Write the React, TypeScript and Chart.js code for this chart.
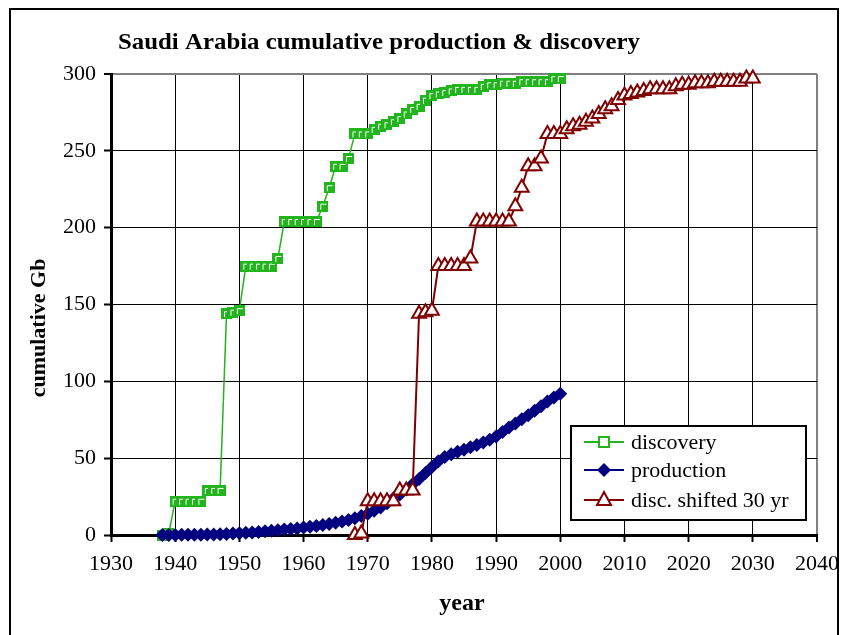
import { useEffect, useRef } from 'react';
import { Chart, registerables } from 'chart.js';

Chart.register(...registerables);

const titleText = 'Saudi Arabia cumulative production & discovery';
const xAxisTitle = 'year';
const yAxisTitle = 'cumulative Gb';
const seriesNames = ['discovery', 'production', 'disc. shifted 30 yr'];

const xTickMin = 1930;
const xTickMax = 2040;
const xTickStep = 10;
const yTickMin = 0;
const yTickMax = 300;
const yTickStep = 50;

const discoveryYears = [
  1938, 1939, 1940, 1941, 1942, 1943, 1944, 1945, 1946, 1947,
  1948, 1949, 1950, 1951, 1952, 1953, 1954, 1955, 1956, 1957,
  1958, 1959, 1960, 1961, 1962, 1963, 1964, 1965, 1966, 1967,
  1968, 1969, 1970, 1971, 1972, 1973, 1974, 1975, 1976, 1977,
  1978, 1979, 1980, 1981, 1982, 1983, 1984, 1985, 1986, 1987,
  1988, 1989, 1990, 1991, 1992, 1993, 1994, 1995, 1996, 1997,
  1998, 1999, 2000,
];
const discoveryValues = [
  0, 1, 22, 22, 22, 22, 22, 29, 29, 29,
  144, 145, 146, 175, 175, 175, 175, 175, 180, 204,
  204, 204, 204, 204, 204, 214, 226, 240, 240, 245,
  261, 261, 261, 264, 266, 267, 269, 271, 274, 277,
  279, 283, 286, 287, 288, 289, 290, 290, 290, 290,
  292, 293, 293, 294, 294, 294, 295, 295, 295, 295,
  295, 297, 297,
];

const productionYears = [
  1938, 1939, 1940, 1941, 1942, 1943, 1944, 1945, 1946, 1947,
  1948, 1949, 1950, 1951, 1952, 1953, 1954, 1955, 1956, 1957,
  1958, 1959, 1960, 1961, 1962, 1963, 1964, 1965, 1966, 1967,
  1968, 1969, 1970, 1971, 1972, 1973, 1974, 1975, 1976, 1977,
  1978, 1979, 1980, 1981, 1982, 1983, 1984, 1985, 1986, 1987,
  1988, 1989, 1990, 1991, 1992, 1993, 1994, 1995, 1996, 1997,
  1998, 1999, 2000,
];
const productionValues = [
  0, 0, 0, 0.1, 0.1, 0.1, 0.2, 0.3, 0.4, 0.5,
  0.7, 0.9, 1.1, 1.4, 1.7, 2.0, 2.4, 2.8, 3.1, 3.5,
  3.9, 4.3, 4.8, 5.3, 5.9, 6.5, 7.1, 7.9, 8.8, 9.8,
  10.9, 12.3, 13.9, 15.8, 17.9, 20.6, 23.8, 26.4, 29.6, 33.0,
  36.5, 40.3, 44.2, 48.0, 50.8, 52.6, 54.2, 55.5, 57.1, 58.6,
  60.2, 62.0, 64.1, 67.0, 69.9, 72.6, 75.3, 78.0, 80.9, 83.8,
  86.8, 89.5, 92.0,
];

const shiftedYears = [
  1968, 1969, 1970, 1971, 1972, 1973, 1974, 1975, 1976, 1977,
  1978, 1979, 1980, 1981, 1982, 1983, 1984, 1985, 1986, 1987,
  1988, 1989, 1990, 1991, 1992, 1993, 1994, 1995, 1996, 1997,
  1998, 1999, 2000, 2001, 2002, 2003, 2004, 2005, 2006, 2007,
  2008, 2009, 2010, 2011, 2012, 2013, 2014, 2015, 2016, 2017,
  2018, 2019, 2020, 2021, 2022, 2023, 2024, 2025, 2026, 2027,
  2028, 2029, 2030,
];
const shiftedValues = [
  0, 1, 22, 22, 22, 22, 22, 29, 29, 29,
  144, 145, 146, 175, 175, 175, 175, 175, 180, 204,
  204, 204, 204, 204, 204, 214, 226, 240, 240, 245,
  261, 261, 261, 264, 266, 267, 269, 271, 274, 277,
  279, 283, 286, 287, 288, 289, 290, 290, 290, 290,
  292, 293, 293, 294, 294, 294, 295, 295, 295, 295,
  295, 297, 297,
];

const GREEN = '#22b41c';
const NAVY = '#000080';
const DARKRED = '#800000';
const SERIF = '"Liberation Serif", "Times New Roman", serif';

function toPoints(xs: number[], ys: number[]) {
  return xs.map((x, i) => ({ x, y: ys[i] }));
}

function makeSquare(): HTMLCanvasElement {
  const c = document.createElement('canvas');
  c.width = 11;
  c.height = 11;
  const g = c.getContext('2d')!;
  g.fillStyle = GREEN;
  g.fillRect(0, 0, 11, 11);
  g.strokeStyle = '#ffffff';
  g.lineWidth = 1;
  g.beginPath();
  g.moveTo(3.5, 9);
  g.lineTo(3.5, 3.5);
  g.lineTo(9, 3.5);
  g.stroke();
  return c;
}

function fitText(ctx: CanvasRenderingContext2D, text: string, x: number, y: number, width: number) {
  const w = ctx.measureText(text).width;
  ctx.save();
  ctx.translate(x, y);
  ctx.scale(width / w, 1);
  ctx.fillText(text, 0, 0);
  ctx.restore();
}

const decorPlugin = {
  id: 'decor',
  beforeDraw(chart: any) {
    const ctx = chart.ctx;
    ctx.save();
    ctx.fillStyle = '#ffffff';
    ctx.fillRect(0, 0, chart.width, chart.height);
    ctx.restore();
  },
  afterDraw(chart: any) {
    const ctx = chart.ctx as CanvasRenderingContext2D;
    ctx.save();
    // outer frame
    ctx.strokeStyle = '#000';
    ctx.lineWidth = 2;
    ctx.strokeRect(10, 9, 828, 640);

    // title
    ctx.fillStyle = '#000';
    ctx.textAlign = 'left';
    ctx.textBaseline = 'alphabetic';
    ctx.font = `bold 23px ${SERIF}`;
    fitText(ctx, titleText, 118, 49, 522);

    // x-axis title
    ctx.textAlign = 'center';
    ctx.font = `bold 24px ${SERIF}`;
    ctx.fillText(xAxisTitle, 462, 610);

    // y-axis title
    ctx.save();
    ctx.translate(45, 328);
    ctx.rotate(-Math.PI / 2);
    ctx.font = `bold 22px ${SERIF}`;
    ctx.textAlign = 'center';
    ctx.fillText(yAxisTitle, 0, 0);
    ctx.restore();

    // legend
    const lx = 571, ly = 426, lw = 235, lh = 94;
    ctx.fillStyle = '#fff';
    ctx.fillRect(lx, ly, lw, lh);
    ctx.strokeStyle = '#000';
    ctx.lineWidth = 2;
    ctx.strokeRect(lx, ly, lw, lh);
    const rows = [442, 470, 500];
    const colors = [GREEN, NAVY, DARKRED];
    ctx.font = `22px ${SERIF}`;
    ctx.textAlign = 'left';
    ctx.textBaseline = 'middle';
    rows.forEach((ry, i) => {
      ctx.strokeStyle = colors[i];
      ctx.lineWidth = 2;
      ctx.beginPath();
      ctx.moveTo(584, ry);
      ctx.lineTo(624, ry);
      ctx.stroke();
      const mx = 604;
      if (i === 0) {
        ctx.fillStyle = '#fff';
        ctx.fillRect(mx - 5, ry - 5, 10, 10);
        ctx.strokeStyle = GREEN;
        ctx.lineWidth = 2;
        ctx.strokeRect(mx - 5, ry - 5, 10, 10);
      } else if (i === 1) {
        ctx.fillStyle = NAVY;
        ctx.beginPath();
        ctx.moveTo(mx, ry - 7);
        ctx.lineTo(mx + 7, ry);
        ctx.lineTo(mx, ry + 7);
        ctx.lineTo(mx - 7, ry);
        ctx.closePath();
        ctx.fill();
      } else {
        ctx.fillStyle = '#fff';
        ctx.strokeStyle = DARKRED;
        ctx.lineWidth = 2;
        ctx.beginPath();
        ctx.moveTo(mx, ry - 8);
        ctx.lineTo(mx + 7, ry + 5);
        ctx.lineTo(mx - 7, ry + 5);
        ctx.closePath();
        ctx.fill();
        ctx.stroke();
      }
      ctx.fillStyle = '#000';
      ctx.fillText(seriesNames[i], 631, ry + 1);
    });
    ctx.restore();
  },
};

export default function App() {
  const canvasRef = useRef<HTMLCanvasElement | null>(null);

  useEffect(() => {
    const canvas = canvasRef.current;
    if (!canvas) return;
    const square = makeSquare();
    const chart = new Chart(canvas, {
      type: 'line',
      data: {
        datasets: [
          {
            label: seriesNames[0],
            data: toPoints(discoveryYears, discoveryValues),
            borderColor: GREEN,
            backgroundColor: GREEN,
            borderWidth: 1.5,
            pointStyle: square as any,
            pointRadius: 6,
            tension: 0,
            order: 2,
          },
          {
            label: seriesNames[1],
            data: toPoints(productionYears, productionValues),
            borderColor: NAVY,
            backgroundColor: NAVY,
            borderWidth: 2,
            pointStyle: 'rectRot',
            pointRadius: 7,
            pointBorderWidth: 0,
            pointBackgroundColor: NAVY,
            tension: 0,
            order: 1,
          },
          {
            label: seriesNames[2],
            data: toPoints(shiftedYears, shiftedValues),
            borderColor: DARKRED,
            backgroundColor: '#ffffff',
            borderWidth: 2,
            pointStyle: 'triangle',
            pointRadius: 8,
            pointBorderWidth: 2,
            pointBorderColor: DARKRED,
            pointBackgroundColor: '#ffffff',
            tension: 0,
            order: 0,
          },
        ],
      },
      options: {
        animation: false,
        responsive: false,
        devicePixelRatio: 1,
        clip: false as any,
        layout: { padding: { top: 74, left: 0, right: 25, bottom: 0 } },
        plugins: {
          legend: { display: false },
          title: { display: false },
          tooltip: { enabled: false },
        },
        scales: {
          x: {
            type: 'linear',
            min: xTickMin,
            max: xTickMax,
            afterFit: (scale: any) => {
              scale.height = 100;
              scale.paddingLeft = 0;
              scale.paddingRight = 0;
            },
            ticks: {
              stepSize: xTickStep,
              color: '#000',
              font: { family: SERIF, size: 22 },
              padding: 9,
              maxRotation: 0,
              autoSkip: false,
              callback: (v: any) => String(v),
            },
            grid: {
              color: (c: any) => (c.tick && c.tick.value === xTickMax ? '#808080' : '#000'),
              lineWidth: (c: any) => (c.tick && c.tick.value === xTickMax ? 2 : 1),
              tickColor: '#000',
              tickLength: 7,
              tickWidth: 2,
            },
            border: { display: true, color: '#000', width: 3 },
          },
          y: {
            type: 'linear',
            min: yTickMin,
            max: yTickMax,
            afterFit: (scale: any) => {
              scale.width = 111;
              scale.paddingTop = 0;
              scale.paddingBottom = 0;
            },
            ticks: {
              stepSize: yTickStep,
              color: '#000',
              font: { family: SERIF, size: 22 },
              padding: 8,
            },
            grid: {
              color: (c: any) => (c.tick && c.tick.value === yTickMax ? '#808080' : '#000'),
              lineWidth: (c: any) => (c.tick && c.tick.value === yTickMax ? 2 : 1),
              tickColor: '#000',
              tickLength: 7,
              tickWidth: 2,
            },
            border: { display: true, color: '#000', width: 3 },
          },
        },
      },
      plugins: [decorPlugin],
    });
    return () => chart.destroy();
  }, []);

  return (
    <div style={{ position: 'absolute', left: 0, top: 0, width: 842, height: 635, background: '#fff' }}>
      <canvas ref={canvasRef} width={842} height={635} style={{ display: 'block' }} />
    </div>
  );
}
